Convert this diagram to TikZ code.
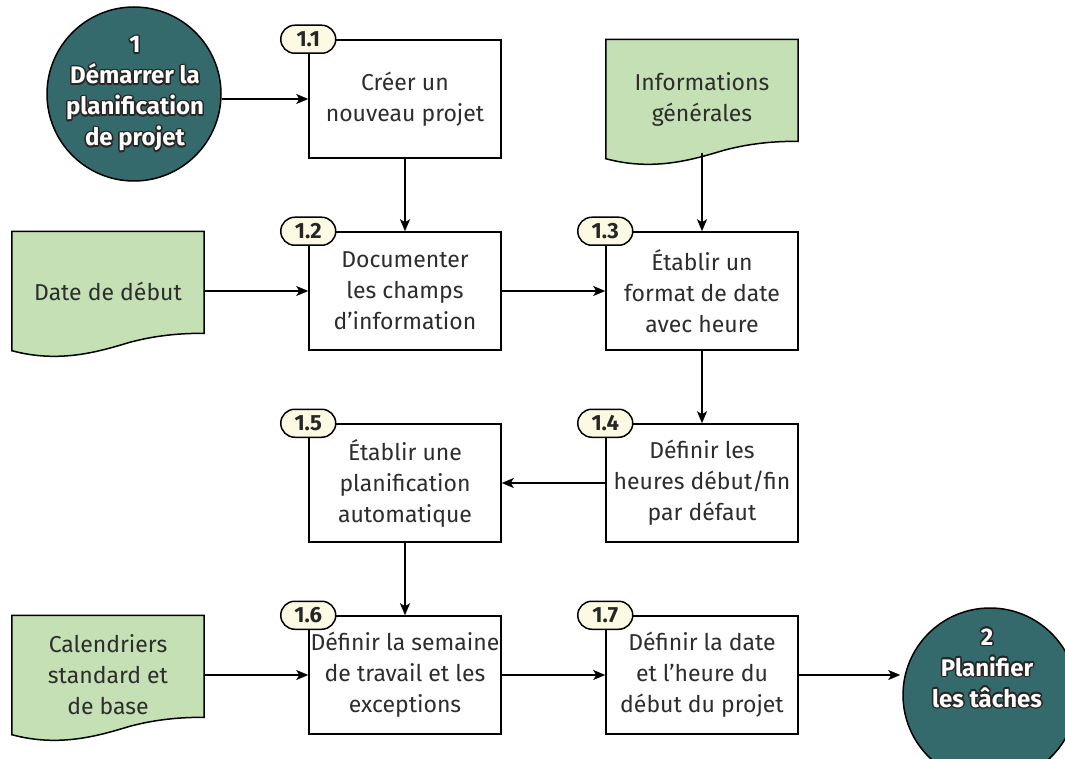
\documentclass[tikz,border=0pt]{standalone}
\usepackage{fontspec}
\setmainfont{Fira Sans}
\newfontface\boldface{Fira Sans Bold}
\usetikzlibrary{arrows.meta,positioning,calc}
\definecolor{teal}{RGB}{52,106,107}
\definecolor{docgreen}{RGB}{197,224,180}
\definecolor{badgefill}{RGB}{253,250,228}
\definecolor{txt}{RGB}{45,45,45}
\tikzset{
  box/.style={draw=black, line width=1.5pt, fill=white, minimum width=192pt, minimum height=118pt, align=center, text=txt, font=\fontsize{23}{31}\selectfont, inner sep=0pt},
  docnode/.style={draw=none, minimum width=192pt, minimum height=119pt, align=center, text=txt, font=\fontsize{23}{31}\selectfont, inner sep=0pt},
  docshape/.style={draw=black, line width=1.5pt, fill=docgreen},
  circ/.style={circle, draw=black, line width=1.5pt, fill=teal, minimum size=174pt, inner sep=0pt},
  badge/.style={draw=black, line width=1.5pt, fill=badgefill, minimum width=55pt, minimum height=28pt, rounded corners=14pt, inner sep=0pt, text=black!85, font=\fontsize{22}{24}\boldface},
  conn/.style={line width=1.5pt, -{Stealth[length=12pt,width=10pt,inset=3pt]}},
  halotxt/.style={align=center, inner sep=0pt, font=\fontsize{24}{31}\boldface}
}
\newcommand\mydoc[1]{%
  \draw[docshape] (#1.north west) -- (#1.south west)
    .. controls +(48,13) and +(-30,9) .. ([shift={(118,111)}]#1.north west)
    .. controls +(30,-8) and +(-19,0) .. ([shift={(0,102)}]#1.north east)
    -- (#1.north east) -- cycle;}
\newcommand\halo[3]{%
  \foreach \a in {0,30,...,330}{
    \node[halotxt, text=black!85] (#1-\a) at ([shift={(\a:1.5pt)}]#2) {#3};}
  \node[halotxt, text=white] (#1) at (#2) {#3};}
\begin{document}
\begin{tikzpicture}[x=1pt,y=-1pt]
\clip (0,0) rectangle (1065,759);
\fill[white] (0,0) rectangle (1065,759);
% circles
\node[circ] (s1) at (134,94) {};
\node[circ] (s2) at (990,695) {};
\coordinate (t1) at (135,94);
\coordinate (t2) at (987,668);
\halo{h1}{t1}{1\\Démarrer la\\planification\\de projet}
\halo{h2}{t2}{2\\Planifier\\les tâches}
% process boxes
\node[box] (b11) at (405,99) {Créer un\\nouveau projet};
\node[box] (b12) at (405,291) {Documenter\\les champs\\d’information};
\node[box] (b13) at (702,291) {Établir un\\format de date\\avec heure};
\node[box] (b14) at (702,483) {Définir les\\heures début/fin\\par défaut};
\node[box] (b15) at (405,483) {Établir une\\planification\\automatique};
\node[box] (b16) at (405,675) {Définir la semaine\\de travail et les\\exceptions};
\node[box] (b17) at (702,675) {Définir la date\\et l’heure du\\début du projet};
% documents
\node[docnode] (d1) at (702,99) {};
\node[docnode] (d2) at (108,291) {};
\node[docnode] (d3) at (108,675) {};
\mydoc{d1}\mydoc{d2}\mydoc{d3}
\node[docnode] (d1t) at (d1) {Informations\\générales};
\node[docnode] (d2t) at (d2) {Date de début};
\node[docnode] (d3t) at (d3) {Calendriers\\standard et\\de base};
% badges
\node[badge] (n11) at (b11.north west) {1.1};
\node[badge] (n12) at (b12.north west) {1.2};
\node[badge] (n13) at (b13.north west) {1.3};
\node[badge] (n14) at (b14.north west) {1.4};
\node[badge] (n15) at (b15.north west) {1.5};
\node[badge] (n16) at (b16.north west) {1.6};
\node[badge] (n17) at (b17.north west) {1.7};
% connectors
\draw[conn] (s1.east |- b11.west) -- (b11.west);
\draw[conn] (b11.south) -- (b12.north);
\draw[conn] (d2.east) -- (d2.east -| b12.west);
\draw[conn] (b12.east) -- (b13.west);
\draw[conn] (d1.south) ++(0,-6) -- (b13.north);
\draw[conn] (b13.south) -- (b14.north);
\draw[conn] (b14.west) -- (b15.east);
\draw[conn] (b15.south) -- (b16.north);
\draw[conn] (d3.east) -- (d3.east -| b16.west);
\draw[conn] (b16.east) -- (b17.west);
\draw[conn, shorten >=2pt] (b17.east) -- (b17.east -| s2.west);
\end{tikzpicture}
\end{document}
